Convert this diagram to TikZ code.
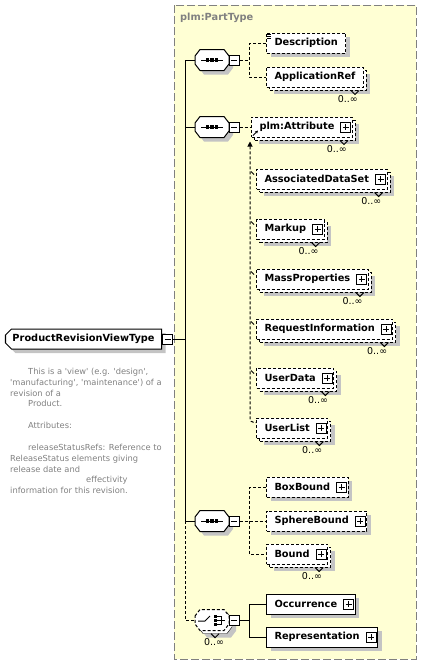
\documentclass[tikz,border=0pt]{standalone}
\usepackage{fontspec}
\setmainfont{DejaVu Sans}
\usetikzlibrary{calc, arrows.meta, positioning, shapes.misc, shadows}
\definecolor{panelyellow}{RGB}{255,255,212}
\definecolor{panelgray}{RGB}{128,128,128}
\definecolor{shadowgray}{RGB}{196,196,196}
\definecolor{notegray}{RGB}{128,128,128}
\newcommand{\sq}{\textquotesingle}

\tikzset{
  box/.style={draw, fill=white, line width=1pt, minimum height=20, inner xsep=8, inner ysep=0,
    font=\fontsize{9.8}{11}\selectfont\bfseries},
  opt/.style={dash pattern=on 3pt off 2pt},
  one/.style={general shadow={fill=shadowgray, shadow xshift=4pt, shadow yshift=-4pt}},
  many/.style={general shadow={fill=shadowgray, shadow xshift=7pt, shadow yshift=-7pt},
    general shadow={draw=black, fill=white, shadow xshift=3pt, shadow yshift=-3pt}},
  optmany/.style={opt, many},
  haskids/.style={execute at end node={\hspace*{10pt}}},
  conn/.style={line width=1pt},
  optconn/.style={conn, dash pattern=on 3pt off 2pt},
  card/.style={font=\fontsize{9.5}{10}\selectfont, inner sep=0},
  plusbox/.style={draw, fill=white, line width=1pt, solid, minimum size=10, inner sep=0,
    path picture={\draw[line width=1pt] ($(path picture bounding box.center)+(-3,0)$) -- ++(6,0)
      ($(path picture bounding box.center)+(0,-3)$) -- ++(0,6);}},
  minusbox/.style={draw, fill=white, line width=1pt, solid, minimum size=10, inner sep=0,
    path picture={\draw[line width=1pt] ($(path picture bounding box.center)+(-3,0)$) -- ++(6,0);}},
  octo/.style={minimum width=34, minimum height=21, inner sep=0},
  octline/.style={draw, fill=white, line width=1pt},
  rootbox/.style={chamfered rectangle, chamfered rectangle corners={north west, south west},
    chamfered rectangle sep=3pt, draw, fill=white, line width=1pt, one, minimum height=20,
    inner xsep=4, inner ysep=0, font=\fontsize{9.8}{11}\selectfont\bfseries},
  note/.style={font=\fontsize{8.3}{10.8}\selectfont, text=notegray, align=left, inner sep=0}
}

\begin{document}
\begin{tikzpicture}[x=1pt, y=-1pt]
  \useasboundingbox (0,0) rectangle (421,665);

  % type panel
  \draw[fill=panelyellow, draw=panelgray, line width=1pt, dash pattern=on 8pt off 3pt] (174,5) rectangle (416,659);
  \node[anchor=west, text=panelgray, font=\fontsize{9.8}{11}\selectfont\bfseries, inner sep=0] (parttype) at (180,18) {plm:PartType};

  % root type and its note
  \node[rootbox, anchor=west] (root) at (5,339) {ProductRevisionViewType};
  \node[minusbox, anchor=west] (root-m) at (root.east) {};
  \node[note, anchor=north west] (doc) at (10,368) {\hspace*{18pt}This is a \sq view\sq{} (e.g. \sq design\sq,\\
    \sq manufacturing\sq, \sq maintenance\sq) of a\\
    revision of a\\
    \hspace*{18pt}Product.\\[11pt]
    \hspace*{18pt}Attributes:\\[11pt]
    \hspace*{18pt}releaseStatusRefs: Reference to\\
    ReleaseStatus elements giving\\
    release date and\\
    \hspace*{76pt}effectivity\\
    information for this revision.};

  % compositors (octagons drawn around the named nodes)
  \node[octo] (seq1) at (212,60) {};
  \node[octo] (seq2) at (212,127) {};
  \node[octo] (seq3) at (212,521) {};
  \node[octo] (choice) at (212,620) {};
  \foreach \n/\look in {seq1/one, seq2/one, seq3/one, choice/optmany}
    \draw[octline, \look] ($(\n)+(-17,-4)$) -- ($(\n)+(-12,-10.5)$) -- ($(\n)+(12,-10.5)$) -- ($(\n)+(17,-4)$)
      -- ($(\n)+(17,4)$) -- ($(\n)+(12,10.5)$) -- ($(\n)+(-12,10.5)$) -- ($(\n)+(-17,4)$) -- cycle;
  % sequence symbol
  \foreach \n in {seq1, seq2, seq3} {
    \draw[conn] ($(\n)+(-11,0)$) -- ($(\n)+(11,0)$);
    \foreach \dx in {-4.5,0,4.5}
      \fill[black] ($(\n)+(\dx-1.75,-1.75)$) rectangle ++(3.5,3.5);
  }
  % choice symbol
  \draw[conn] ($(choice)+(-14,1)$) -- ++(7,0) -- ++(5,-5);
  \foreach \dy in {-4,0,4}
    \fill[black] ($(choice)+(1.5,\dy-1.5)$) rectangle ++(3,3);
  \draw[conn] ($(choice)+(5,-4)$) -- ++(4,0) -- ++(0,8) -- ++(-4,0)
    ($(choice)+(5,0)$) -- ++(8,0);
  \foreach \n in {seq1, seq2, seq3, choice}
    \node[minusbox, anchor=west] (\n-m) at ([xshift=-0.5pt]\n.east) {};

  % sequence 1
  \node[box, opt, one, anchor=west] (desc) at (266,43) {Description};
  \node[box, opt, many, anchor=west] (appref) at (266,77) {ApplicationRef};

  % sequence 2
  \node[box, opt, many, haskids, anchor=west] (attr) at (251,127) {plm:Attribute};
  \node[box, opt, many, haskids, anchor=west] (assoc) at (256,179) {AssociatedDataSet};
  \node[box, opt, many, haskids, anchor=west] (markup) at (256,229) {Markup};
  \node[box, opt, many, haskids, anchor=west] (mass) at (256,279) {MassProperties};
  \node[box, opt, many, haskids, anchor=west] (reqinfo) at (256,329) {RequestInformation};
  \node[box, opt, many, haskids, anchor=west] (udata) at (256,378) {UserData};
  \node[box, opt, many, haskids, anchor=west] (ulist) at (256,428) {UserList};

  % sequence 3
  \node[box, opt, one, haskids, anchor=west] (boxb) at (266,487) {BoxBound};
  \node[box, opt, one, haskids, anchor=west] (sphere) at (266,521) {SphereBound};
  \node[box, opt, many, haskids, anchor=west] (bound) at (266,554) {Bound};

  % choice
  \node[box, one, haskids, anchor=west] (occ) at (266,604) {Occurrence};
  \node[box, one, haskids, anchor=west] (repr) at (266,637) {Representation};

  % expand buttons
  \foreach \n in {attr, assoc, markup, mass, reqinfo, udata, ulist, boxb, sphere, bound, occ, repr}
    \node[plusbox] (\n-p) at ($(\n.east)+(-7,0)$) {};

  % occurrence marks
  \foreach \n in {appref, attr, assoc, markup, mass, reqinfo, udata, ulist, bound} {
    \draw[conn] ($(\n.south east)+(-13,3)$) -- ++(4,4) -- ++(4,-4);
    \node[card, anchor=north east] (\n-c) at ($(\n.south east)+(-6,8)$) {0..∞};
  }
  \draw[conn] ($(choice.south)+(-1,3)$) -- ++(4,4) -- ++(4,-4);
  \node[card, anchor=north] (choice-c) at ($(choice.south)+(2,8)$) {0..∞};

  % documentation and reference marks
  \foreach \dy in {2,4,6}
    \draw[line width=0.8pt] ($(desc.north west)+(1,\dy)$) -- ++(4,0);
  \draw[line width=1pt, -{Stealth[length=3pt, width=3pt]}] ($(attr.south west)+(2,-2)$) -- ++(5,-5);

  % trunk
  \coordinate (trunk) at ($(root-m.east)+(12,0)$);
  \draw[conn] (root-m.east) -- (trunk);
  \draw[conn] (seq1.west) -| (trunk) |- (seq3.west);
  \draw[conn] (seq2.west) -- (seq2.west -| trunk);
  \draw[optconn] (seq3.west -| trunk) |- (choice.west);

  % sequence 1 links
  \coordinate (fork1) at ($(seq1-m.east)+(10,0)$);
  \draw[optconn] (seq1-m.east) -- (fork1);
  \draw[optconn] (desc.west) -| (fork1) |- (appref.west);

  % sequence 2 links
  \draw[optconn] (seq2-m.east) -- (attr.west);
  \coordinate (bus) at ($(attr.south west)+(-1,4)$);
  \draw[optconn, rounded corners=4pt, {Triangle[length=5pt, width=5pt]}-] (bus) |- ($(ulist.north west)+(0,5)$);
  \foreach \n in {assoc, markup, mass, reqinfo, udata}
    \draw[line width=0.8pt] ($(\n.north west)+(-5,3)$) -- ++(3,3);

  % sequence 3 links
  \coordinate (fork3) at ($(seq3-m.east)+(10,0)$);
  \draw[optconn] (seq3-m.east) -- (sphere.west);
  \draw[optconn] (boxb.west) -| (fork3) |- (bound.west);

  % choice links
  \coordinate (fork4) at ($(choice-m.east)+(10,0)$);
  \draw[conn] (choice-m.east) -- (fork4);
  \draw[conn] (occ.west) -| (fork4) |- (repr.west);
\end{tikzpicture}
\end{document}
